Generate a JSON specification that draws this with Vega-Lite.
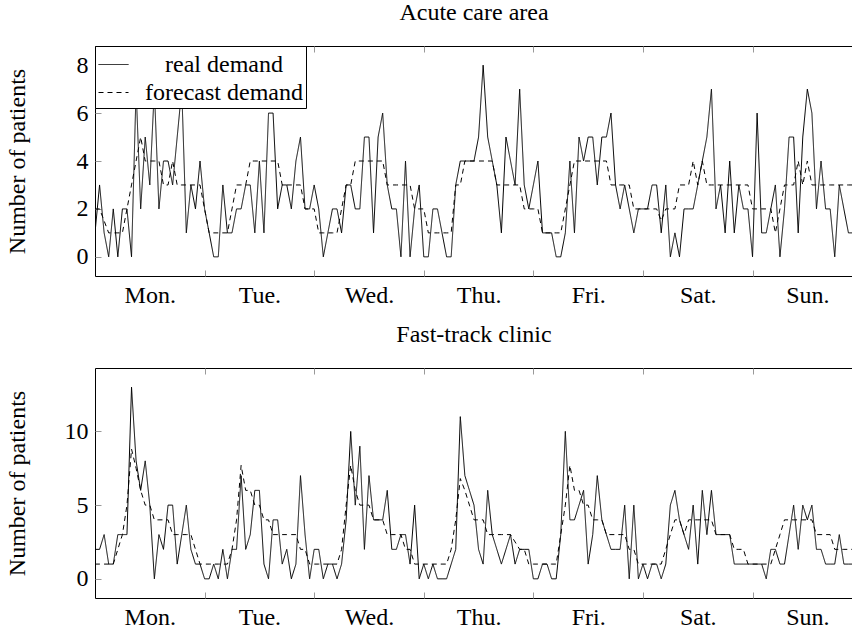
{
"$schema": "https://vega.github.io/schema/vega-lite/v6.json",
"padding": {"left": 4, "top": 0, "right": 0, "bottom": 0},
"config": {
 "font": "Liberation Serif",
 "view": {"stroke": "black", "strokeWidth": 1},
 "axis": {"labelFont": "Liberation Serif", "labelFontSize": 24, "labelColor": "black", "titleFont": "Liberation Serif", "titleFontSize": 24, "titleFontWeight": "normal", "titleColor": "black", "grid": false, "domain": false, "tickColor": "#999999", "tickSize": -6, "labelPadding": 13},
 "title": {"font": "Liberation Serif", "fontSize": 24, "fontWeight": "normal", "color": "black", "offset": 21},
 "legend": {"labelFont": "Liberation Serif", "labelFontSize": 24, "labelColor": "black"},
 "concat": {"spacing": 14}
},
"datasets": {
 "acute": [
{"h":0,"r":1,"f":2},{"h":1,"r":3,"f":2},{"h":2,"r":1,"f":1.5},{"h":3,"r":0,"f":1},{"h":4,"r":2,"f":1},{"h":5,"r":0,"f":1},{"h":6,"r":2,"f":1},{"h":7,"r":2,"f":2},{"h":8,"r":0,"f":3},{"h":9,"r":7,"f":4},{"h":10,"r":2,"f":5},{"h":11,"r":5,"f":4},
{"h":12,"r":3,"f":4},{"h":13,"r":7,"f":4},{"h":14,"r":2,"f":4},{"h":15,"r":4,"f":3},{"h":16,"r":4,"f":3},{"h":17,"r":3,"f":4},{"h":18,"r":5,"f":3},{"h":19,"r":7,"f":3},{"h":20,"r":1,"f":3},{"h":21,"r":3,"f":3},{"h":22,"r":2,"f":3},{"h":23,"r":4,"f":3},
{"h":24,"r":2,"f":2},{"h":25,"r":1,"f":1},{"h":26,"r":0,"f":1},{"h":27,"r":0,"f":1},{"h":28,"r":3,"f":1},{"h":29,"r":1,"f":1},{"h":30,"r":1,"f":2},{"h":31,"r":2,"f":3},{"h":32,"r":2,"f":3},{"h":33,"r":3,"f":3},{"h":34,"r":3,"f":4},{"h":35,"r":1,"f":4},
{"h":36,"r":4,"f":4},{"h":37,"r":1,"f":4},{"h":38,"r":6,"f":4},{"h":39,"r":6,"f":4},{"h":40,"r":2,"f":4},{"h":41,"r":3,"f":3},{"h":42,"r":3,"f":3},{"h":43,"r":2,"f":3},{"h":44,"r":4,"f":3},{"h":45,"r":5,"f":3},{"h":46,"r":2,"f":2},{"h":47,"r":2,"f":2},
{"h":48,"r":3,"f":2},{"h":49,"r":2,"f":1},{"h":50,"r":0,"f":1},{"h":51,"r":1,"f":1},{"h":52,"r":2,"f":1},{"h":53,"r":2,"f":1},{"h":54,"r":1,"f":2},{"h":55,"r":3,"f":3},{"h":56,"r":3,"f":3},{"h":57,"r":2,"f":4},{"h":58,"r":2,"f":4},{"h":59,"r":5,"f":4},
{"h":60,"r":5,"f":4},{"h":61,"r":1,"f":4},{"h":62,"r":5,"f":4},{"h":63,"r":6,"f":4},{"h":64,"r":3,"f":3},{"h":65,"r":2,"f":3},{"h":66,"r":2,"f":3},{"h":67,"r":0,"f":3},{"h":68,"r":4,"f":3},{"h":69,"r":0,"f":3},{"h":70,"r":2,"f":2},{"h":71,"r":3,"f":2},
{"h":72,"r":0,"f":2},{"h":73,"r":0,"f":1},{"h":74,"r":2,"f":1},{"h":75,"r":2,"f":1},{"h":76,"r":1,"f":1},{"h":77,"r":0,"f":1},{"h":78,"r":0,"f":1},{"h":79,"r":3,"f":3},{"h":80,"r":4,"f":3},{"h":81,"r":4,"f":4},{"h":82,"r":4,"f":4},{"h":83,"r":4,"f":4},
{"h":84,"r":5,"f":4},{"h":85,"r":8,"f":4},{"h":86,"r":5,"f":4},{"h":87,"r":4,"f":4},{"h":88,"r":3,"f":3},{"h":89,"r":1,"f":3},{"h":90,"r":5,"f":3},{"h":91,"r":4,"f":3},{"h":92,"r":3,"f":3},{"h":93,"r":7,"f":3},{"h":94,"r":3,"f":2},{"h":95,"r":2,"f":2},
{"h":96,"r":3,"f":2},{"h":97,"r":4,"f":2},{"h":98,"r":1,"f":1},{"h":99,"r":1,"f":1},{"h":100,"r":1,"f":1},{"h":101,"r":0,"f":1},{"h":102,"r":0,"f":1},{"h":103,"r":1,"f":2},{"h":104,"r":4,"f":3},{"h":105,"r":1,"f":4},{"h":106,"r":5,"f":4},{"h":107,"r":4,"f":4},
{"h":108,"r":5,"f":4},{"h":109,"r":5,"f":4},{"h":110,"r":3,"f":4},{"h":111,"r":5,"f":4},{"h":112,"r":5,"f":4},{"h":113,"r":6,"f":3},{"h":114,"r":3,"f":3},{"h":115,"r":2,"f":3},{"h":116,"r":3,"f":3},{"h":117,"r":2,"f":3},{"h":118,"r":1,"f":2},{"h":119,"r":2,"f":2},
{"h":120,"r":2,"f":2},{"h":121,"r":2,"f":2},{"h":122,"r":3,"f":2},{"h":123,"r":3,"f":2},{"h":124,"r":1,"f":1.5},{"h":125,"r":3,"f":2},{"h":126,"r":0,"f":2},{"h":127,"r":1,"f":2},{"h":128,"r":0,"f":3},{"h":129,"r":2,"f":3},{"h":130,"r":2,"f":3},{"h":131,"r":2,"f":4},
{"h":132,"r":3,"f":3},{"h":133,"r":4,"f":4},{"h":134,"r":5,"f":3},{"h":135,"r":7,"f":3},{"h":136,"r":2,"f":3},{"h":137,"r":3,"f":3},{"h":138,"r":1,"f":3},{"h":139,"r":4,"f":3},{"h":140,"r":1,"f":3},{"h":141,"r":3,"f":3},{"h":142,"r":2,"f":3},{"h":143,"r":2,"f":3},
{"h":144,"r":0,"f":2},{"h":145,"r":6,"f":2},{"h":146,"r":1,"f":2},{"h":147,"r":1,"f":2},{"h":148,"r":2,"f":2},{"h":149,"r":3,"f":1},{"h":150,"r":0,"f":2},{"h":151,"r":2,"f":3},{"h":152,"r":5,"f":3},{"h":153,"r":5,"f":3},{"h":154,"r":1,"f":4},{"h":155,"r":5,"f":3},
{"h":156,"r":7,"f":4},{"h":157,"r":6,"f":3},{"h":158,"r":2,"f":3},{"h":159,"r":4,"f":3},{"h":160,"r":2,"f":3},{"h":161,"r":2,"f":3},{"h":162,"r":0,"f":3},{"h":163,"r":3,"f":3},{"h":164,"r":2,"f":3},{"h":165,"r":1,"f":3},{"h":166,"r":1,"f":3}
 ],
 "fast": [
{"h":0,"r":2,"f":1},{"h":1,"r":2,"f":1},{"h":2,"r":3,"f":1},{"h":3,"r":1,"f":1},{"h":4,"r":1,"f":1},{"h":5,"r":3,"f":2},{"h":6,"r":3,"f":3},{"h":7,"r":3,"f":5},{"h":8,"r":13,"f":8.8},{"h":9,"r":8,"f":7.5},{"h":10,"r":6,"f":6},{"h":11,"r":8,"f":5},
{"h":12,"r":5,"f":5},{"h":13,"r":0,"f":4},{"h":14,"r":3,"f":4},{"h":15,"r":2,"f":4},{"h":16,"r":5,"f":4},{"h":17,"r":5,"f":3},{"h":18,"r":1,"f":3},{"h":19,"r":3,"f":3},{"h":20,"r":5,"f":3},{"h":21,"r":2,"f":3},{"h":22,"r":1,"f":2},{"h":23,"r":1,"f":1},
{"h":24,"r":0,"f":1},{"h":25,"r":0,"f":1},{"h":26,"r":1,"f":1},{"h":27,"r":0,"f":1},{"h":28,"r":2,"f":1},{"h":29,"r":0,"f":1},{"h":30,"r":2,"f":2},{"h":31,"r":2,"f":4},{"h":32,"r":7,"f":7.7},{"h":33,"r":2,"f":6},{"h":34,"r":3,"f":6},{"h":35,"r":6,"f":5},
{"h":36,"r":6,"f":5},{"h":37,"r":1,"f":4},{"h":38,"r":0,"f":4},{"h":39,"r":4,"f":3},{"h":40,"r":4,"f":3},{"h":41,"r":1,"f":3},{"h":42,"r":2,"f":3},{"h":43,"r":0,"f":3},{"h":44,"r":1,"f":3},{"h":45,"r":7,"f":2},{"h":46,"r":3,"f":2},{"h":47,"r":0,"f":1},
{"h":48,"r":2,"f":1},{"h":49,"r":2,"f":1},{"h":50,"r":0,"f":1},{"h":51,"r":1,"f":1},{"h":52,"r":1,"f":1},{"h":53,"r":0,"f":1},{"h":54,"r":1,"f":2},{"h":55,"r":4,"f":5},{"h":56,"r":10,"f":7.7},{"h":57,"r":5,"f":6},{"h":58,"r":9,"f":5},{"h":59,"r":2,"f":5},
{"h":60,"r":7,"f":5},{"h":61,"r":4,"f":4},{"h":62,"r":4,"f":4},{"h":63,"r":4,"f":4},{"h":64,"r":6,"f":3},{"h":65,"r":2,"f":3},{"h":66,"r":2,"f":3},{"h":67,"r":3,"f":3},{"h":68,"r":3,"f":2},{"h":69,"r":1,"f":2},{"h":70,"r":5,"f":1},{"h":71,"r":0,"f":1},
{"h":72,"r":1,"f":1},{"h":73,"r":0,"f":1},{"h":74,"r":1,"f":1},{"h":75,"r":0,"f":1},{"h":76,"r":0,"f":1},{"h":77,"r":0,"f":1},{"h":78,"r":1,"f":2},{"h":79,"r":2,"f":4},{"h":80,"r":11,"f":6.8},{"h":81,"r":7,"f":6},{"h":82,"r":6,"f":5},{"h":83,"r":5,"f":4},
{"h":84,"r":2,"f":4},{"h":85,"r":1,"f":4},{"h":86,"r":6,"f":3},{"h":87,"r":3,"f":3},{"h":88,"r":2,"f":3},{"h":89,"r":1,"f":3},{"h":90,"r":2,"f":3},{"h":91,"r":3,"f":3},{"h":92,"r":1,"f":2.5},{"h":93,"r":2,"f":2},{"h":94,"r":2,"f":2},{"h":95,"r":2,"f":1},
{"h":96,"r":0,"f":1},{"h":97,"r":0,"f":1},{"h":98,"r":1,"f":1},{"h":99,"r":1,"f":1},{"h":100,"r":0,"f":1},{"h":101,"r":0,"f":1},{"h":102,"r":3,"f":3},{"h":103,"r":10,"f":5},{"h":104,"r":4,"f":7.7},{"h":105,"r":4,"f":6},{"h":106,"r":5,"f":6},{"h":107,"r":6,"f":5},
{"h":108,"r":1,"f":5},{"h":109,"r":3,"f":4},{"h":110,"r":7,"f":4},{"h":111,"r":4,"f":4},{"h":112,"r":3,"f":3},{"h":113,"r":2,"f":3},{"h":114,"r":2,"f":3},{"h":115,"r":2,"f":3},{"h":116,"r":5,"f":3},{"h":117,"r":0,"f":2},{"h":118,"r":5,"f":2},{"h":119,"r":0,"f":1},
{"h":120,"r":1,"f":1},{"h":121,"r":0,"f":1},{"h":122,"r":1,"f":1},{"h":123,"r":1,"f":1},{"h":124,"r":0,"f":1},{"h":125,"r":1,"f":2},{"h":126,"r":5,"f":3},{"h":127,"r":6,"f":4},{"h":128,"r":4,"f":4},{"h":129,"r":3,"f":3},{"h":130,"r":2,"f":4},{"h":131,"r":5,"f":4},
{"h":132,"r":1,"f":4},{"h":133,"r":6,"f":4},{"h":134,"r":3,"f":4},{"h":135,"r":6,"f":4},{"h":136,"r":3,"f":3},{"h":137,"r":3,"f":3},{"h":138,"r":3,"f":3},{"h":139,"r":3,"f":3},{"h":140,"r":1,"f":2},{"h":141,"r":1,"f":2},{"h":142,"r":1,"f":2},{"h":143,"r":1,"f":1},
{"h":144,"r":1,"f":1},{"h":145,"r":1,"f":1},{"h":146,"r":1,"f":1},{"h":147,"r":0,"f":1},{"h":148,"r":2,"f":1},{"h":149,"r":2,"f":2},{"h":150,"r":1,"f":3},{"h":151,"r":1,"f":4},{"h":152,"r":3,"f":4},{"h":153,"r":5,"f":4},{"h":154,"r":2,"f":4},{"h":155,"r":5,"f":4},
{"h":156,"r":4,"f":4},{"h":157,"r":5,"f":4},{"h":158,"r":2,"f":3},{"h":159,"r":2,"f":3},{"h":160,"r":1,"f":3},{"h":161,"r":1,"f":3},{"h":162,"r":1,"f":2},{"h":163,"r":3,"f":2},{"h":164,"r":1,"f":2},{"h":165,"r":1,"f":2},{"h":166,"r":1,"f":2}
 ]
},
"resolve": {"legend": {"strokeDash": "independent"}},
"vconcat": [
 {
  "title": "Acute care area",
  "width": 758, "height": 230,
  "data": {"name": "acute"},
  "transform": [{"fold": ["r", "f"], "as": ["series", "value"]}],
  "resolve": {"axis": {"x": "independent"}},
  "layer": [
   {
    "mark": {"type": "line", "color": "black", "strokeWidth": 1, "clip": true},
    "encoding": {
     "x": {"field": "h", "type": "quantitative", "scale": {"domain": [0, 166], "nice": false, "zero": false},
      "axis": {"title": null, "values": [12,24,36,48,60,72,84,96,108,120,132,144,156],
       "labelExpr": "datum.value % 24 == 12 ? ['Mon.','Tue.','Wed.','Thu.','Fri.','Sat.','Sun.'][floor(datum.value/24)] : ''",
       "tickOpacity": {"condition": {"test": "datum.value % 24 == 12", "value": 0}, "value": 1}}},
     "y": {"field": "value", "type": "quantitative", "scale": {"domain": [-0.8, 8.8], "nice": false, "zero": false},
      "axis": {"title": "Number of patients", "values": [0,2,4,6,8], "titleX": -66, "titleY": 115}},
     "strokeDash": {"field": "series", "type": "nominal",
      "scale": {"domain": ["r", "f"], "range": [[1, 0], [5, 4]]},
      "legend": {"title": null, "orient": "top-left", "offset": 0, "padding": 3, "strokeColor": "black", "fillColor": "white", "cornerRadius": 0,
       "symbolType": "stroke", "symbolSize": 900, "symbolStrokeWidth": 1, "symbolStrokeColor": "black", "rowPadding": 0, "labelOffset": 95, "labelAlign": "center", "labelLimit": 400,
       "labelExpr": "datum.label == 'r' ? 'real demand' : 'forecast demand'"}}
    }
   },
   {
    "mark": {"type": "line", "strokeOpacity": 0},
    "encoding": {
     "x": {"field": "h", "type": "quantitative", "axis": {"orient": "top", "title": null, "labels": false, "values": [24,48,72,96,120,144]}},
     "y": {"field": "value", "type": "quantitative"},
     "detail": {"field": "series"}
    }
   }
  ]
 },
 {
  "title": "Fast-track clinic",
  "width": 758, "height": 230,
  "data": {"name": "fast"},
  "transform": [{"fold": ["r", "f"], "as": ["series", "value"]}],
  "resolve": {"axis": {"x": "independent"}},
  "layer": [
   {
    "mark": {"type": "line", "color": "black", "strokeWidth": 1, "clip": true},
    "encoding": {
     "x": {"field": "h", "type": "quantitative", "scale": {"domain": [0, 166], "nice": false, "zero": false},
      "axis": {"title": null, "values": [12,24,36,48,60,72,84,96,108,120,132,144,156],
       "labelExpr": "datum.value % 24 == 12 ? ['Mon.','Tue.','Wed.','Thu.','Fri.','Sat.','Sun.'][floor(datum.value/24)] : ''",
       "tickOpacity": {"condition": {"test": "datum.value % 24 == 12", "value": 0}, "value": 1}}},
     "y": {"field": "value", "type": "quantitative", "scale": {"domain": [-1.3, 14.3], "nice": false, "zero": false},
      "axis": {"title": "Number of patients", "values": [0,5,10], "titleX": -66, "titleY": 115}},
     "strokeDash": {"field": "series", "type": "nominal",
      "scale": {"domain": ["r", "f"], "range": [[1, 0], [5, 4]]}, "legend": null}
    }
   },
   {
    "mark": {"type": "line", "strokeOpacity": 0},
    "encoding": {
     "x": {"field": "h", "type": "quantitative", "axis": {"orient": "top", "title": null, "labels": false, "values": [24,48,72,96,120,144]}},
     "y": {"field": "value", "type": "quantitative"},
     "detail": {"field": "series"}
    }
   }
  ]
 }
]
}
